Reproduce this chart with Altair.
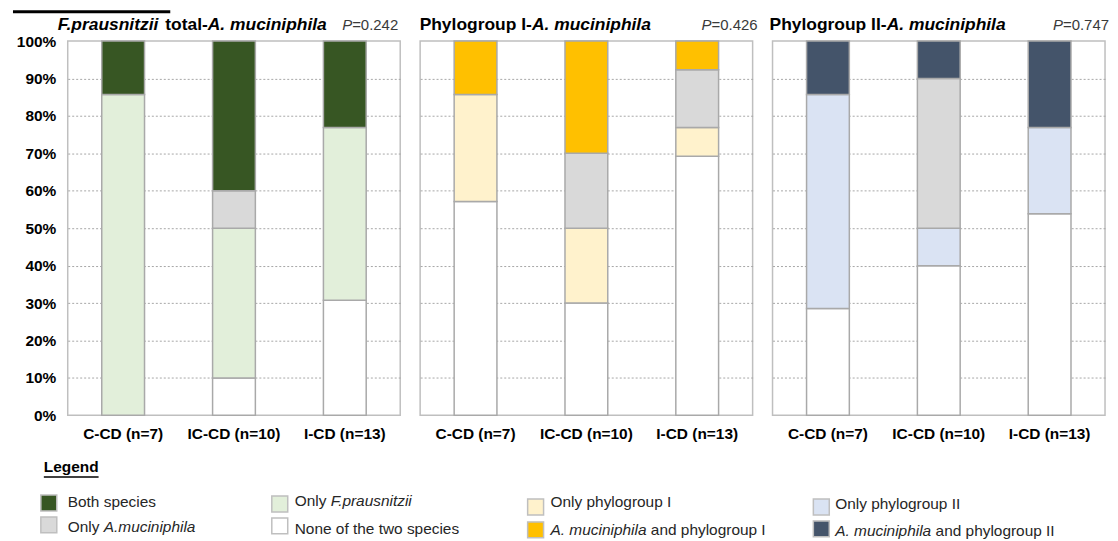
import altair as alt
import pandas as pd

# ---------------- data ----------------
groups = ["C-CD (n=7)", "IC-CD (n=10)", "I-CD (n=13)"]
group_n = [7, 10, 13]

# panel 1: F.prausnitzii total - A. muciniphila (counts, bottom -> top)
p1_none = [0, 1, 4]
p1_only_fp = [6, 4, 6]
p1_only_am = [0, 1, 0]
p1_both = [1, 4, 3]

# panel 2: Phylogroup I - A. muciniphila
p2_none = [4, 3, 9]
p2_only_pg1 = [2, 2, 1]
p2_only_am = [0, 2, 2]
p2_am_pg1 = [1, 3, 1]

# panel 3: Phylogroup II - A. muciniphila
p3_none = [2, 4, 7]
p3_only_pg2 = [4, 1, 3]
p3_only_am = [0, 4, 0]
p3_am_pg2 = [1, 1, 3]

p_values = ["0.242", "0.426", "0.747"]

categories = [
    "Both species",
    "Only A.muciniphila",
    "Only F.prausnitzii",
    "None of the two species",
    "Only phylogroup I",
    "A. muciniphila and phylogroup I",
    "Only phylogroup II",
    "A. muciniphila and phylogroup II",
]
colors = ["#375623", "#D9D9D9", "#E2EFDA", "#FFFFFF",
          "#FFF2CC", "#FFC000", "#DAE3F3", "#44546A"]

y_ticks = [0, 0.1, 0.2, 0.3, 0.4, 0.5, 0.6, 0.7, 0.8, 0.9, 1.0]

panel_stacks = [
    [("None of the two species", p1_none), ("Only F.prausnitzii", p1_only_fp),
     ("Only A.muciniphila", p1_only_am), ("Both species", p1_both)],
    [("None of the two species", p2_none), ("Only phylogroup I", p2_only_pg1),
     ("Only A.muciniphila", p2_only_am), ("A. muciniphila and phylogroup I", p2_am_pg1)],
    [("None of the two species", p3_none), ("Only phylogroup II", p3_only_pg2),
     ("Only A.muciniphila", p3_only_am), ("A. muciniphila and phylogroup II", p3_am_pg2)],
]


def panel_frame(stack):
    rows = []
    for gi, g in enumerate(groups):
        cum = 0
        for cat, counts in stack:
            c = counts[gi]
            if c > 0:
                rows.append({"group": g, "category": cat,
                             "y0": cum / group_n[gi], "y1": (cum + c) / group_n[gi]})
            cum += c
    return pd.DataFrame(rows)


# ---------------- text metrics (Arial / Liberation Sans) ----------------
REG = {' ': 278, '(': 333, ')': 333, '-': 333, '.': 278, '=': 584, '%': 889}
BOLD = dict(REG)
for d in "0123456789":
    REG[d] = 556
    BOLD[d] = 556
REG.update(dict(zip("ABCDEFGHIJKLMNOPQRSTUVWXYZ",
    [667, 667, 722, 722, 667, 611, 778, 722, 278, 500, 667, 556, 833, 722, 778, 667, 778, 722, 667, 611, 722, 667, 944, 667, 667, 611])))
REG.update(dict(zip("abcdefghijklmnopqrstuvwxyz",
    [556, 556, 500, 556, 556, 278, 556, 556, 222, 222, 500, 222, 833, 556, 556, 556, 556, 333, 500, 278, 556, 500, 722, 500, 500, 500])))
BOLD.update(dict(zip("ABCDEFGHIJKLMNOPQRSTUVWXYZ",
    [722, 722, 722, 722, 667, 611, 778, 722, 278, 556, 722, 611, 833, 722, 778, 667, 778, 722, 667, 611, 722, 667, 944, 667, 667, 611])))
BOLD.update(dict(zip("abcdefghijklmnopqrstuvwxyz",
    [556, 611, 556, 611, 556, 333, 611, 611, 278, 278, 556, 278, 889, 611, 611, 611, 611, 389, 556, 333, 611, 556, 778, 556, 556, 500])))


def tw(s, size, bold):
    t = BOLD if bold else REG
    return sum(t.get(ch, 556) for ch in s) * size / 1000.0


ONE = alt.Data(values=[{"k": 1}])
FONT = "Liberation Sans"


def seg_layers(segments, x_abs, base_abs, size, color, origin, right=False):
    out = []
    total = sum(tw(t, size, b) for t, it, b in segments)
    x = x_abs - total if right else x_abs
    for t, it, b in segments:
        lead = len(t) - len(t.lstrip(" "))
        tx = x + tw(" " * lead, size, b)
        out.append(
            alt.Chart(ONE).mark_text(
                text=t.strip(), align="left", baseline="alphabetic", fontSize=size,
                font=FONT, fontStyle="italic" if it else "normal",
                fontWeight="bold" if b else "normal", color=color,
            ).encode(x=alt.value(tx - origin[0]), y=alt.value(base_abs - origin[1]))
        )
        x += tw(t, size, b)
    return out


color_scale = alt.Scale(domain=categories, range=colors)
cat_color = dict(zip(categories, colors))

W, H = 334, 376
TOP = 39
origins = [(65, TOP), (419, TOP), (773, TOP)]

titles = [
    [("F.prausnitzii", True, True), (" total-", False, True), ("A. muciniphila", True, True)],
    [("Phylogroup I-", False, True), ("A. muciniphila", True, True)],
    [("Phylogroup II-", False, True), ("A. muciniphila", True, True)],
]
title_x = [55, 418.5, 770]
p_right = [397, 758, 1111]

grid_opacity = {"condition": {"test": "datum.value === 0 || datum.value === 1", "value": 0}, "value": 1}

panels = []
for i in range(3):
    df = panel_frame(panel_stacks[i])
    yaxis = alt.Axis(
        values=y_ticks, format=".0%", labels=(i == 0), labelFontSize=15.5,
        labelFontWeight="bold", labelColor="#000000", labelFont=FONT, domain=False, ticks=False,
        labelPadding=12, title=None, gridColor="#A6A6A6", gridDash=[2, 2], gridWidth=1,
        gridOpacity=grid_opacity,
    )
    xaxis = alt.Axis(labelAngle=0, labelFontSize=15.5, labelFontWeight="bold", labelColor="#000000",
                     labelFont=FONT, domain=False, ticks=False, labelPadding=11, title=None)
    bars = alt.Chart(df).mark_bar(stroke="#A9A9A9", strokeWidth=1.5).encode(
        x=alt.X("group:N", sort=groups, axis=xaxis,
                scale=alt.Scale(paddingInner=0.614, paddingOuter=0.307)),
        y=alt.Y("y0:Q", scale=alt.Scale(domain=[0, 1], nice=False), axis=yaxis),
        y2="y1:Q",
        color=alt.Color("category:N", scale=color_scale, legend=None),
    )
    layers = [bars]
    o = origins[i]
    layers += seg_layers(titles[i], title_x[i], 28, 17.5, "#000000", o)
    layers += seg_layers([("P", True, False), ("=" + p_values[i], False, False)],
                         p_right[i], 28, 15, "#3A3A3A", o, right=True)
    if i == 0:
        # top-left black line
        layers.append(alt.Chart(ONE).mark_rule(color="#000000", strokeWidth=3).encode(
            x=alt.value(10 - o[0]), x2=alt.value(168 - o[0]), y=alt.value(9.5 - o[1])))
        # legend header
        layers += seg_layers([("Legend", False, True)], 41, 472, 15.5, "#000000", o)
        layers.append(alt.Chart(ONE).mark_rule(color="#000000", strokeWidth=1.5).encode(
            x=alt.value(41 - o[0]), x2=alt.value(96 - o[0]), y=alt.value(477 - o[1])))
        # legend items: (category, label segments, swatch x, swatch y, text x, baseline)
        legend_items = [
            ("Both species", [("Both species", False, False)], 38, 495, 65, 507),
            ("Only A.muciniphila", [("Only ", False, False), ("A.muciniphila", True, False)], 38, 517, 65, 532.5),
            ("Only F.prausnitzii", [("Only ", False, False), ("F.prausnitzii", True, False)], 270, 496, 293, 506),
            ("None of the two species", [("None of the two species", False, False)], 270, 518, 293, 534.5),
            ("Only phylogroup I", [("Only phylogroup I", False, False)], 527, 499, 550, 507),
            ("A. muciniphila and phylogroup I", [("A. muciniphila", True, False), (" and phylogroup I", False, False)], 527, 522, 550, 535),
            ("Only phylogroup II", [("Only phylogroup II", False, False)], 814, 499, 836, 509),
            ("A. muciniphila and phylogroup II", [("A. muciniphila", True, False), (" and phylogroup II", False, False)], 814, 521, 836, 536),
        ]
        for cat, segs, sx, sy, txx, tb in legend_items:
            layers.append(alt.Chart(ONE).mark_rect(stroke="#BFBFBF", strokeWidth=1.5).encode(
                x=alt.value(sx - o[0]), x2=alt.value(sx + 16 - o[0]),
                y=alt.value(sy - o[1]), y2=alt.value(sy + 16 - o[1]),
                fill=alt.value(cat_color[cat])))
            layers += seg_layers(segs, txx, tb, 15.5, "#262626", o)
    panels.append(alt.layer(*layers).properties(width=W, height=H))

chart = alt.hconcat(*panels, spacing=20, bounds="flush").properties(
    padding={"left": 2, "top": 0, "right": 0, "bottom": 0}
).configure(font=FONT).configure_view(stroke="#BFBFBF", strokeWidth=1.5)

chart.save("out.html", embed_options={"renderer": "svg", "actions": False})
